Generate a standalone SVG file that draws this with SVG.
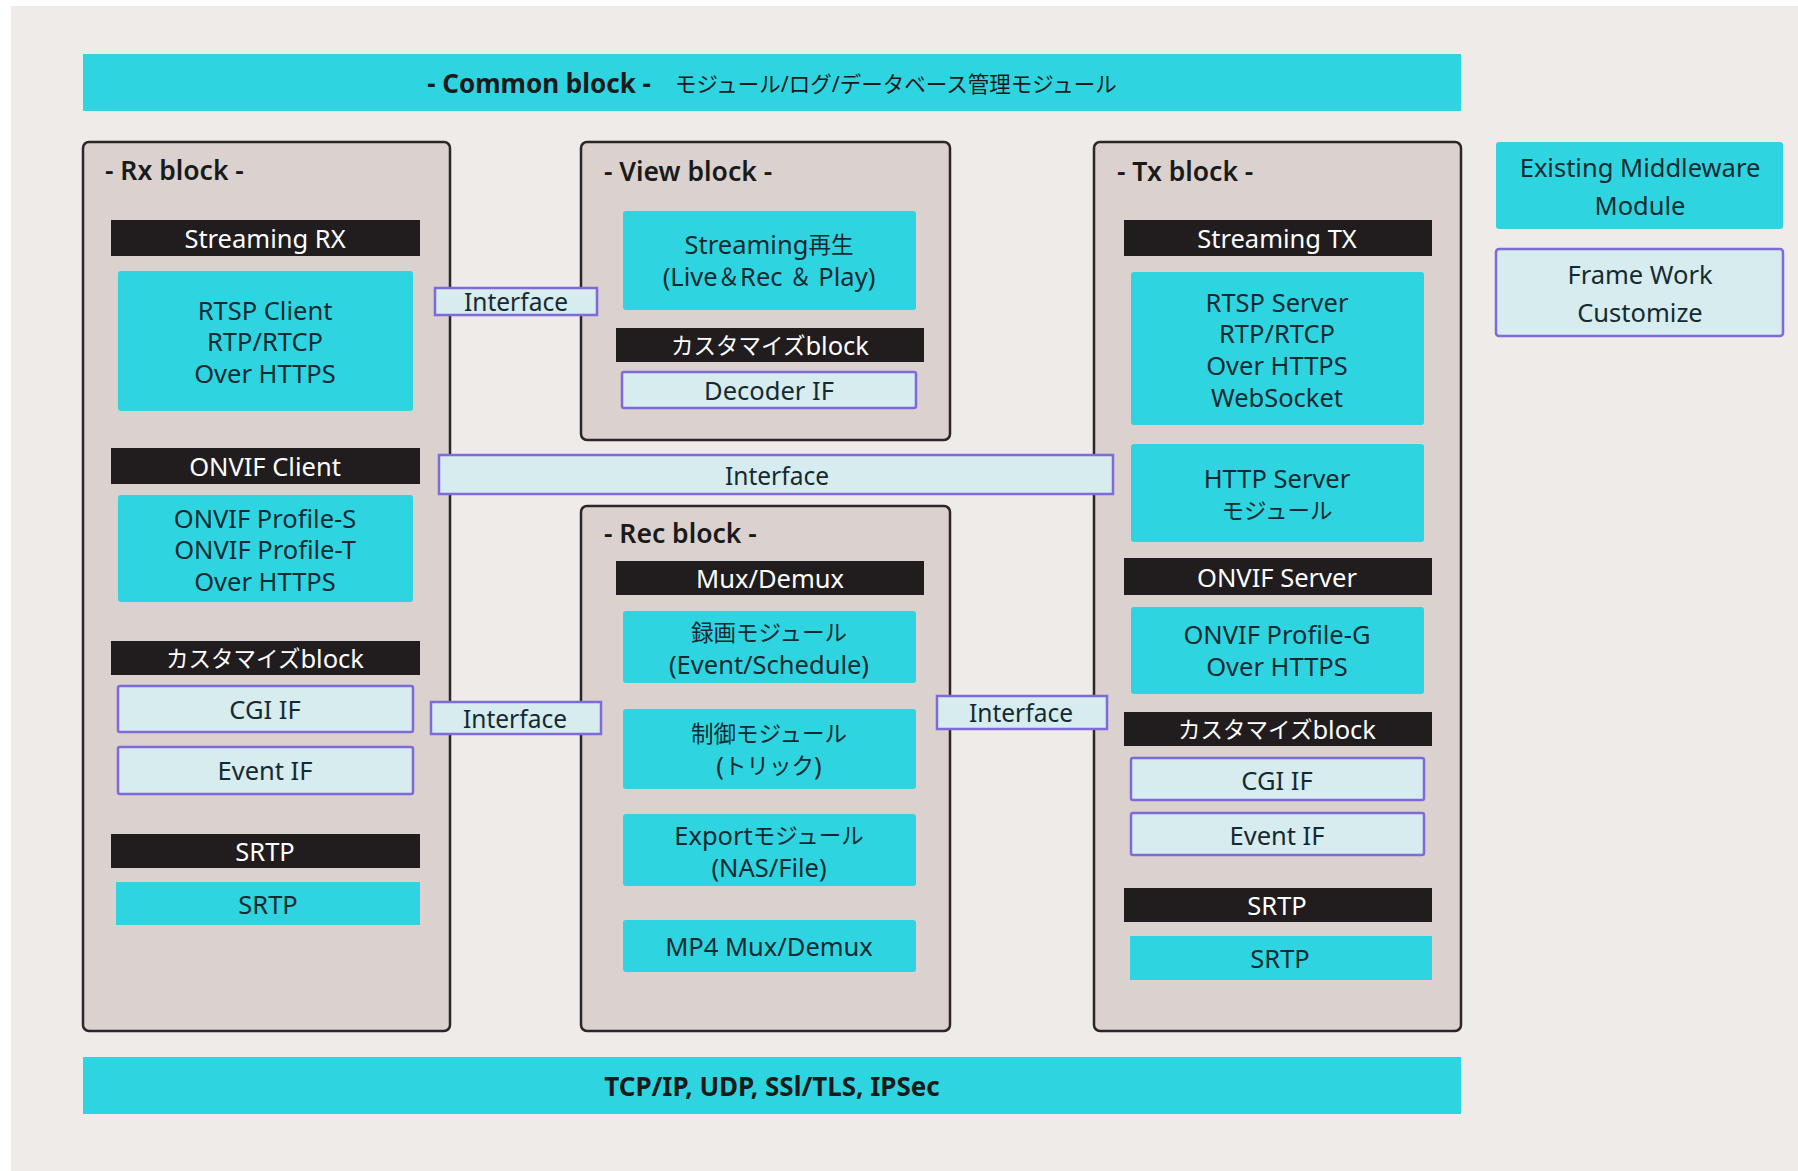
<svg xmlns="http://www.w3.org/2000/svg" width="1798" height="1171" viewBox="0 0 1798 1171">
<style>
.bg{fill:#efebe8}
.blk{fill:#dbd1cf;stroke:#2b2627;stroke-width:2.5}
.cy{fill:#2ed5e1}
.bar{fill:#211d1e}
.lt{fill:#d6ecef;stroke:#7e6ad8;stroke-width:2.5}
text{font-family:"Noto Sans","Noto Sans CJK JP",sans-serif;text-anchor:middle;dominant-baseline:central}
.t{font-size:25.5px;fill:#152a30}
.w{font-size:25.5px;fill:#ffffff}
.if{font-size:24.5px;fill:#152a30}
.j{font-size:22.5px}
.ttl{font-size:26.5px;fill:#1a1a1a;font-weight:600;text-anchor:start}
.bold{font-size:26px;font-weight:700;fill:#1a1a1a}
</style>
<rect x="0" y="0" width="1798" height="1171" fill="#ffffff"/>
<rect class="bg" x="11" y="6" width="1787" height="1165"/>

<g id="common-block">
<rect class="cy" x="83" y="54" width="1378" height="57"/>
<text x="772" y="83" fill="#1a1a1a"><tspan font-weight="700" font-size="26">- Common block -</tspan><tspan dx="24" font-size="21.5">モジュール/ログ/データベース管理モジュール</tspan></text>
</g>

<g id="network-block">
<rect class="cy" x="83" y="1057" width="1378" height="57"/>
<text class="bold" x="772" y="1086">TCP/IP, UDP, SSl/TLS, IPSec</text>
</g>

<g id="rx-block">
<rect class="blk" x="83" y="142" width="367" height="889" rx="6"/>
<text class="ttl" x="105" y="170">- Rx block -</text>
<g id="rx-streaming">
<rect class="bar" x="111" y="220" width="309" height="36"/>
<text class="w" x="265" y="238">Streaming RX</text>
<rect class="cy" x="118" y="271" width="295" height="140" rx="3"/>
<text class="t" x="265" y="310">RTSP Client</text>
<text class="t" x="265" y="341">RTP/RTCP</text>
<text class="t" x="265" y="373">Over HTTPS</text>
</g>
<g id="rx-onvif">
<rect class="bar" x="111" y="448" width="309" height="36"/>
<text class="w" x="265" y="466">ONVIF Client</text>
<rect class="cy" x="118" y="495" width="295" height="107" rx="3"/>
<text class="t" x="265" y="518">ONVIF Profile-S</text>
<text class="t" x="265" y="549">ONVIF Profile-T</text>
<text class="t" x="265" y="581">Over HTTPS</text>
</g>
<g id="rx-customize">
<rect class="bar" x="111" y="641" width="309" height="34"/>
<text class="w" x="265" y="658"><tspan class="j">カスタマイズ</tspan>block</text>
<rect class="lt" x="118" y="686" width="295" height="46" rx="2"/>
<text class="t" x="265" y="709">CGI IF</text>
<rect class="lt" x="118" y="747" width="295" height="47" rx="2"/>
<text class="t" x="265" y="770">Event IF</text>
</g>
<g id="rx-srtp">
<rect class="bar" x="111" y="834" width="309" height="34"/>
<text class="w" x="265" y="851">SRTP</text>
<rect class="cy" x="116" y="882" width="304" height="43"/>
<text class="t" x="268" y="904">SRTP</text>
</g>
</g>

<g id="view-block">
<rect class="blk" x="581" y="142" width="369" height="298" rx="6"/>
<text class="ttl" x="604" y="171">- View block -</text>
<rect class="cy" x="623" y="211" width="293" height="99" rx="3"/>
<text class="t" x="769" y="244">Streaming<tspan class="j">再生</tspan></text>
<text class="t" x="769" y="276">(Live<tspan class="j">＆</tspan>Rec <tspan class="j">＆</tspan> Play)</text>
<rect class="bar" x="616" y="328" width="308" height="34"/>
<text class="w" x="770" y="345"><tspan class="j">カスタマイズ</tspan>block</text>
<rect class="lt" x="622" y="372" width="294" height="36" rx="2"/>
<text class="t" x="769" y="390">Decoder IF</text>
</g>

<g id="rec-block">
<rect class="blk" x="581" y="506" width="369" height="525" rx="6"/>
<text class="ttl" x="604" y="533">- Rec block -</text>
<rect class="bar" x="616" y="561" width="308" height="34"/>
<text class="w" x="770" y="578">Mux/Demux</text>
<rect class="cy" x="623" y="611" width="293" height="72" rx="3"/>
<text class="t" x="769" y="632"><tspan class="j">録画モジュール</tspan></text>
<text class="t" x="769" y="664">(Event/Schedule)</text>
<rect class="cy" x="623" y="709" width="293" height="80" rx="3"/>
<text class="t" x="769" y="733"><tspan class="j">制御モジュール</tspan></text>
<text class="t" x="769" y="765">(<tspan class="j">トリック</tspan>)</text>
<rect class="cy" x="623" y="814" width="293" height="72" rx="3"/>
<text class="t" x="769" y="835">Export<tspan class="j">モジュール</tspan></text>
<text class="t" x="769" y="867">(NAS/File)</text>
<rect class="cy" x="623" y="920" width="293" height="52" rx="3"/>
<text class="t" x="769" y="946">MP4 Mux/Demux</text>
</g>

<g id="tx-block">
<rect class="blk" x="1094" y="142" width="367" height="889" rx="6"/>
<text class="ttl" x="1117" y="171">- Tx block -</text>
<g id="tx-streaming">
<rect class="bar" x="1124" y="220" width="308" height="36"/>
<text class="w" x="1277" y="238">Streaming TX</text>
<rect class="cy" x="1131" y="272" width="293" height="153" rx="3"/>
<text class="t" x="1277" y="302">RTSP Server</text>
<text class="t" x="1277" y="333">RTP/RTCP</text>
<text class="t" x="1277" y="365">Over HTTPS</text>
<text class="t" x="1277" y="397">WebSocket</text>
<rect class="cy" x="1131" y="444" width="293" height="98" rx="3"/>
<text class="t" x="1277" y="478">HTTP Server</text>
<text class="t" x="1277" y="510"><tspan class="j">モジュール</tspan></text>
</g>
<g id="tx-onvif">
<rect class="bar" x="1124" y="558" width="308" height="37"/>
<text class="w" x="1277" y="577">ONVIF Server</text>
<rect class="cy" x="1131" y="607" width="293" height="87" rx="3"/>
<text class="t" x="1277" y="634">ONVIF Profile-G</text>
<text class="t" x="1277" y="666">Over HTTPS</text>
</g>
<g id="tx-customize">
<rect class="bar" x="1124" y="712" width="308" height="34"/>
<text class="w" x="1277" y="729"><tspan class="j">カスタマイズ</tspan>block</text>
<rect class="lt" x="1131" y="758" width="293" height="42" rx="2"/>
<text class="t" x="1277" y="780">CGI IF</text>
<rect class="lt" x="1131" y="813" width="293" height="42" rx="2"/>
<text class="t" x="1277" y="835">Event IF</text>
</g>
<g id="tx-srtp">
<rect class="bar" x="1124" y="888" width="308" height="34"/>
<text class="w" x="1277" y="905">SRTP</text>
<rect class="cy" x="1130" y="936" width="302" height="44"/>
<text class="t" x="1280" y="958">SRTP</text>
</g>
</g>

<g id="legend">
<g id="legend-existing">
<rect class="cy" x="1496" y="142" width="287" height="87" rx="3"/>
<text class="t" x="1640" y="167">Existing Middleware</text>
<text class="t" x="1640" y="205">Module</text>
</g>
<g id="legend-framework">
<rect class="lt" x="1496" y="249" width="287" height="87" rx="3"/>
<text class="t" x="1640" y="274">Frame Work</text>
<text class="t" x="1640" y="312">Customize</text>
</g>
</g>

<g id="connectors">
<g id="if-rx-view">
<rect class="lt" x="435" y="288" width="162" height="27"/>
<text class="if" x="516" y="301">Interface</text>
</g>
<g id="if-rx-tx">
<rect class="lt" x="439" y="455" width="674" height="39"/>
<text class="if" x="777" y="475">Interface</text>
</g>
<g id="if-rx-rec">
<rect class="lt" x="431" y="702" width="170" height="32"/>
<text class="if" x="515" y="718">Interface</text>
</g>
<g id="if-rec-tx">
<rect class="lt" x="937" y="696" width="170" height="33"/>
<text class="if" x="1021" y="712">Interface</text>
</g>
</g>
</svg>
